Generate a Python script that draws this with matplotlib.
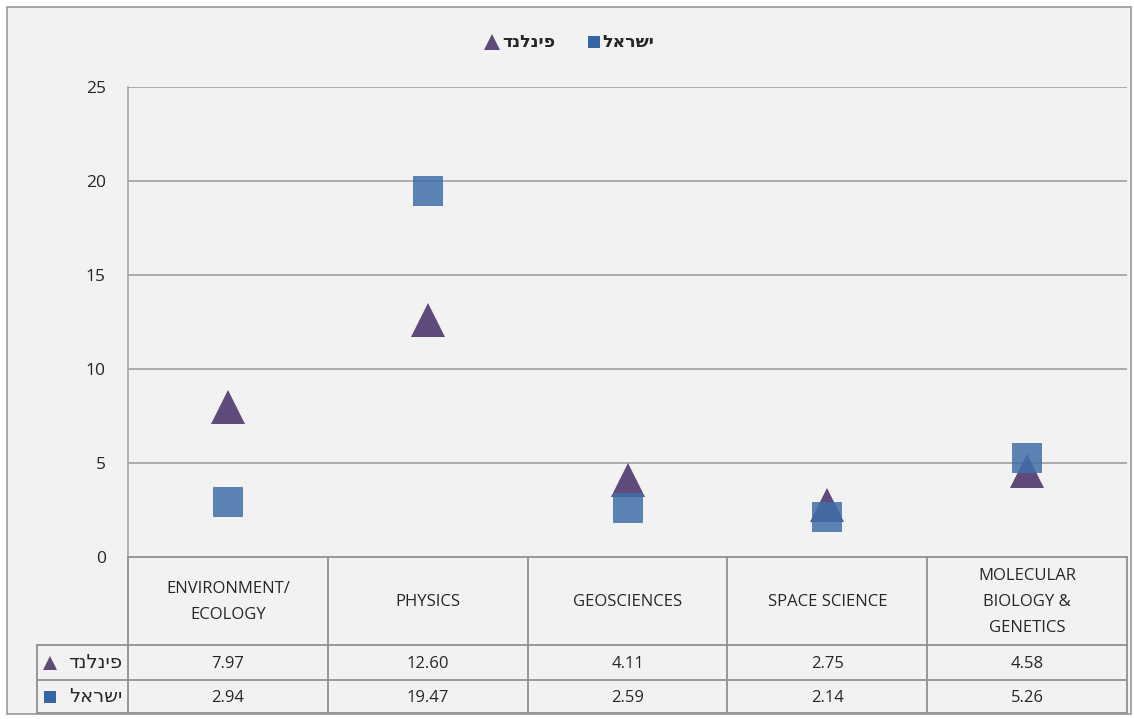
import matplotlib
matplotlib.use("Agg")
import matplotlib.pyplot as plt
from matplotlib.patches import Rectangle
from matplotlib.lines import Line2D

# --- datos ---
categories = ["ENVIRONMENT/\nECOLOGY", "PHYSICS", "GEOSCIENCES",
              "SPACE SCIENCE", "MOLECULAR\nBIOLOGY &\nGENETICS"]
finland = [7.97, 12.60, 4.11, 2.75, 4.58]
israel = [2.94, 19.47, 2.59, 2.14, 5.26]
finland_name = "פינלנד"
israel_name = "ישראל"
y_ticks = [0, 5, 10, 15, 20, 25]

FONT = ["Open Sans", "DejaVu Sans"]
HEB = ["DejaVu Sans"]
BG = "#f2f2f2"
GRID = "#a6a6a6"
TXT = "#262626"
C_FIN = "#604a7b"
C_ISR = "#3f6ea8"

W, H = 1134, 719


def rtl(s):
    # matplotlib no hace bidi: invertimos el texto hebreo para mostrarlo bien
    return s[::-1]


def fx(px):
    return px / W


def fy(py):
    return 1 - py / H


fig = plt.figure(figsize=(W / 100, H / 100), dpi=100)
fig.patch.set_facecolor("white")
fig.patches.append(Rectangle((fx(7), fy(714)), fx(1131) - fx(7), fy(7) - fy(714),
                             transform=fig.transFigure, facecolor=BG,
                             edgecolor="#a0a0a0", lw=1.3, zorder=-5))

# --- area de graficado ---
left, right, top, bottom = 128, 1127, 87, 557
ax = fig.add_axes([fx(left), fy(bottom), fx(right) - fx(left), fy(top) - fy(bottom)])
ax.set_zorder(1)
ax.set_facecolor("none")
ax.set_xlim(-0.5, len(categories) - 0.5)
ax.set_ylim(0, 25)
for s in ["top", "right", "bottom"]:
    ax.spines[s].set_visible(False)
ax.spines["left"].set_color(GRID)
ax.spines["left"].set_linewidth(1.2)
ax.set_yticks(y_ticks)
ax.set_yticklabels([str(t) for t in y_ticks], fontsize=12.5, color=TXT, family=FONT)
ax.tick_params(axis="y", length=0, pad=16)
ax.set_xticks([])
for t in y_ticks[1:]:
    ax.axhline(t, color=GRID, lw=1.3, zorder=1)

xs = list(range(len(categories)))
ax.plot(xs, finland, linestyle="none", marker="^", markersize=24,
        color=C_FIN, markeredgewidth=0, zorder=3, clip_on=False)
ax.plot(xs, israel, linestyle="none", marker="s", markersize=21,
        color=C_ISR, alpha=0.85, markeredgewidth=0, zorder=4, clip_on=False)

# --- leyenda ---
lx, ly = 492, 42
fig.add_artist(Line2D([fx(lx)], [fy(ly)], marker="^", markersize=11,
                      color=C_FIN, markeredgewidth=0, linestyle="none"))
fig.text(fx(lx + 10), fy(ly), rtl(finland_name), fontsize=12.5, fontweight="bold",
         family=HEB, color=TXT, va="center", ha="left")
fig.add_artist(Line2D([fx(lx + 102)], [fy(ly)], marker="s", markersize=9,
                      color="#3465a4", markeredgewidth=0, linestyle="none"))
fig.text(fx(lx + 110), fy(ly), rtl(israel_name), fontsize=12.5, fontweight="bold",
         family=HEB, color=TXT, va="center", ha="left")

# --- tabla de datos ---
col_w = (right - left) / len(categories)
rows_y = [557, 645, 680, 713]
tab_left = 37
LC = "#909090"


def hline(x0, x1, y):
    fig.add_artist(Line2D([fx(x0), fx(x1)], [fy(y), fy(y)], color=LC, lw=1.3))


def vline(x, y0, y1):
    fig.add_artist(Line2D([fx(x), fx(x)], [fy(y0), fy(y1)], color=LC, lw=1.3))


hline(left, right, rows_y[0])
for y in rows_y[1:]:
    hline(tab_left, right, y)
vline(tab_left, rows_y[1], rows_y[3])
for i in range(len(categories) + 1):
    vline(left + i * col_w, rows_y[0], rows_y[3])

for i, cat in enumerate(categories):
    cx = left + (i + 0.5) * col_w
    fig.text(fx(cx), fy((rows_y[0] + rows_y[1]) / 2 + 1), cat, fontsize=12,
             family=FONT, color=TXT, ha="center", va="center", linespacing=1.85)
    fig.text(fx(cx), fy((rows_y[1] + rows_y[2]) / 2 + 1), f"{finland[i]:.2f}",
             fontsize=12, family=FONT, color=TXT, ha="center", va="center")
    fig.text(fx(cx), fy((rows_y[2] + rows_y[3]) / 2 + 1), f"{israel[i]:.2f}",
             fontsize=12, family=FONT, color=TXT, ha="center", va="center")

# etiquetas de filas
r1 = (rows_y[1] + rows_y[2]) / 2
r2 = (rows_y[2] + rows_y[3]) / 2
fig.add_artist(Line2D([fx(50)], [fy(r1)], marker="^", markersize=10,
                      color=C_FIN, markeredgewidth=0, linestyle="none"))
fig.text(fx(122), fy(r1), rtl(finland_name), fontsize=14, family=HEB,
         color=TXT, ha="right", va="center")
fig.add_artist(Line2D([fx(50)], [fy(r2)], marker="s", markersize=8,
                      color="#3465a4", markeredgewidth=0, linestyle="none"))
fig.text(fx(122), fy(r2), rtl(israel_name), fontsize=14, family=HEB,
         color=TXT, ha="right", va="center")

fig.savefig("out.png", dpi=100, facecolor=fig.get_facecolor())
